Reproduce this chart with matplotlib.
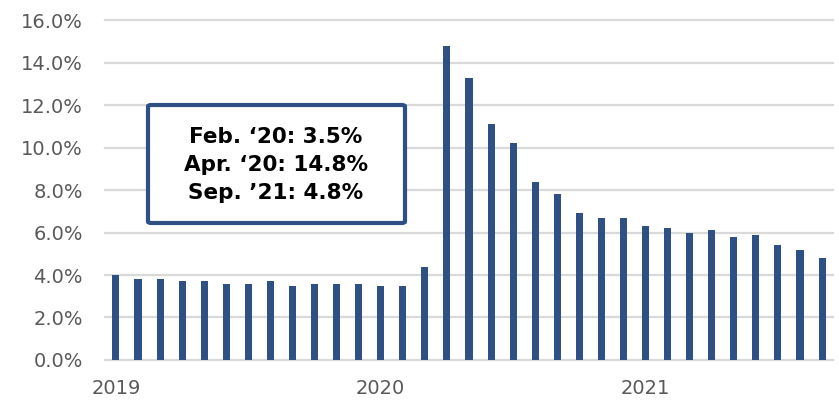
import numpy as np
import matplotlib.pyplot as plt
from matplotlib.patches import FancyBboxPatch

# monthly unemployment rate, Jan 2019 - Sep 2021
months = np.arange(33)
rate = [4.0, 3.8, 3.8, 3.7, 3.7, 3.6, 3.6, 3.7, 3.5, 3.6, 3.6, 3.6,
        3.5, 3.5, 4.4, 14.8, 13.3, 11.1, 10.2, 8.4, 7.8, 6.9, 6.7, 6.7,
        6.3, 6.2, 6.0, 6.1, 5.8, 5.9, 5.4, 5.2, 4.8]
year_pos = [0, 12, 24]
year_labels = ["2019", "2020", "2021"]
box_lines = ["Feb. \u201820: 3.5%", "Apr. \u201820: 14.8%", "Sep. \u201921: 4.8%"]

plt.rcParams['font.family'] = ['DejaVu Sans']

fig = plt.figure(figsize=(8.39, 4.04), dpi=100)
ax = fig.add_axes([0.125, 0.109, 0.868, 0.841])

ax.bar(months, rate, width=0.32, color='#2E5084', zorder=3)

ax.set_xlim(-0.5, 32.5)
ax.set_ylim(0, 16)
ax.set_yticks(np.arange(0, 17, 2))
ax.set_yticklabels([f"{v:.1f}%" for v in np.arange(0, 17, 2)])
ax.set_xticks(year_pos)
ax.set_xticklabels(year_labels)
ax.tick_params(length=0, labelsize=14, labelcolor='#595959')
ax.tick_params(axis='y', pad=16)
ax.tick_params(axis='x', pad=14)

ax.grid(axis='y', color='#D9D9D9', linewidth=1.6, zorder=0)
# keep the 0% and 16% lines at full thickness
for gl in ax.get_ygridlines():
    gl.set_clip_on(False)
for s in ax.spines.values():
    s.set_visible(False)

# annotation box
box = FancyBboxPatch((148 / 839, 1 - 223 / 404), 257 / 839, 118 / 404,
                     boxstyle="round,pad=0,rounding_size=0.004",
                     transform=fig.transFigure, facecolor='white',
                     edgecolor='#2E5084', linewidth=3, zorder=5)
fig.patches.append(box)
fig.text(276 / 839, 1 - 165 / 404, "\n".join(box_lines), ha='center', va='center',
         fontsize=15.5, fontweight='bold', color='black', linespacing=1.5, zorder=6)

fig.savefig("out.png", dpi=100)
